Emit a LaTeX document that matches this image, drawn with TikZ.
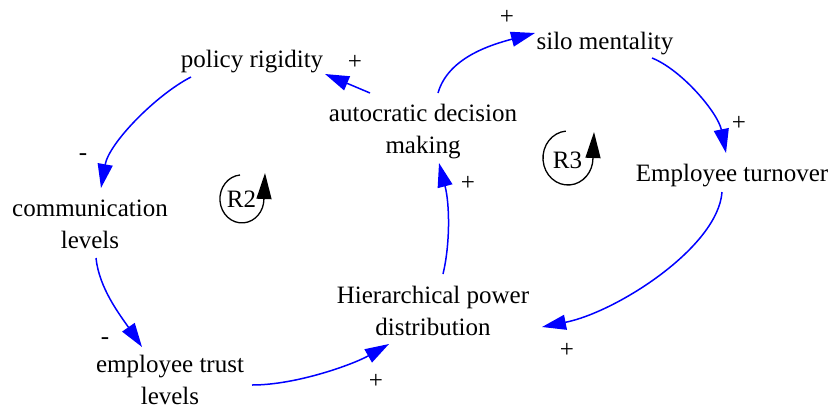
\documentclass[tikz,border=0pt]{standalone}
\usepackage{fontspec}
\setmainfont{Liberation Serif}
\usetikzlibrary{arrows.meta}
\definecolor{linkblue}{RGB}{0,0,255}
\newcommand{\twoln}[2]{\vtop{\halign{\hfil##\hfil\cr #1\cr #2\cr}}}
\begin{document}
\begin{tikzpicture}[x=1pt,y=-1pt,
  every node/.style={font=\fontsize{25}{32}\selectfont, inner sep=0pt},
  lbl/.style={anchor=base},
  sgn/.style={anchor=center},
  conn/.style={draw=linkblue, line width=1.5pt, -{Triangle[length=24pt,width=15pt]}, fill=none},
  loopmark/.style={draw=black, line width=1.3pt},
  loophead/.style={-{Triangle[length=26pt,width=15pt]}}]
\useasboundingbox (0,0) rectangle (834,410);
% variables
\node[lbl] (pol)   at (252,67)  {policy rigidity};
\node[lbl] (aut)   at (423,121) {\twoln{autocratic decision}{making}};
\node[lbl] (silo)  at (605,49)  {silo mentality};
\node[lbl] (emp)   at (732,181) {Employee turnover};
\node[lbl] (hier)  at (433,303) {\twoln{Hierarchical power}{distribution}};
\node[lbl] (trust) at (170,372) {\twoln{employee trust}{levels}};
\node[lbl] (comm)  at (90,216)  {\twoln{communication}{levels}};
% links
\draw[conn] ([shift={(-53,-28)}]aut.base) -- ([shift={(73,7)}]pol.base);
\draw[conn] ([shift={(15,-28)}]aut.base) .. controls +(10,-35) and +(-45,12) .. ([shift={(-70,-16)}]silo.base);
\draw[conn] ([shift={(47,9)}]silo.base) .. controls +(30,12) and +(-8,-40) .. ([shift={(-6,-28)}]emp.base);
\draw[conn] ([shift={(-10,11)}]emp.base) .. controls +(-4,55) and +(75,-15) .. ([shift={(109,24)}]hier.base);
\draw[conn] ([shift={(10,-29)}]hier.base) .. controls +(7,-29) and +(11,42) .. ([shift={(16,42)}]aut.base);
\draw[conn] ([shift={(82,13)}]trust.base) .. controls +(45,0) and +(-35,20) .. ([shift={(-44,41)}]hier.base);
\draw[conn] ([shift={(6,42)}]comm.base) .. controls +(3,30) and +(-22,-32) .. ([shift={(-28,-25)}]trust.base);
\draw[conn] ([shift={(-61,10)}]pol.base) .. controls +(-35,18) and +(8,-45) .. ([shift={(11,-28)}]comm.base);
% polarities
\node[sgn] (s1) at (355,62)  {+};
\node[sgn] (s2) at (507,17)  {+};
\node[sgn] (s3) at (739,123) {+};
\node[sgn] (s4) at (567,350) {+};
\node[sgn] (s5) at (468,183) {+};
\node[sgn] (s6) at (376,381) {+};
\node[sgn] (s7) at (105,341) {-};
\node[sgn] (s8) at (83,157)  {-};
% loop markers
\node[lbl] (r2) at (241.5,207) {R2};
\node[lbl] (r3) at (567.5,168) {R3};
\coordinate (r2c) at (242,199);
\coordinate (r3c) at (568,158);
\draw[loopmark] ([shift={(-2,-24)}]r2c) arc[start angle=265, end angle=0, x radius=22, y radius=24];
\draw[loopmark, loophead, fill=black] ([shift={(22,0)}]r2c) -- ([shift={(23,-26)}]r2c);
\draw[loopmark] ([shift={(-2.2,-26.9)}]r3c) arc[start angle=265, end angle=0, x radius=25, y radius=27];
\draw[loopmark, loophead, fill=black] ([shift={(25,0)}]r3c) -- ([shift={(26,-26)}]r3c);
\end{tikzpicture}
\end{document}
